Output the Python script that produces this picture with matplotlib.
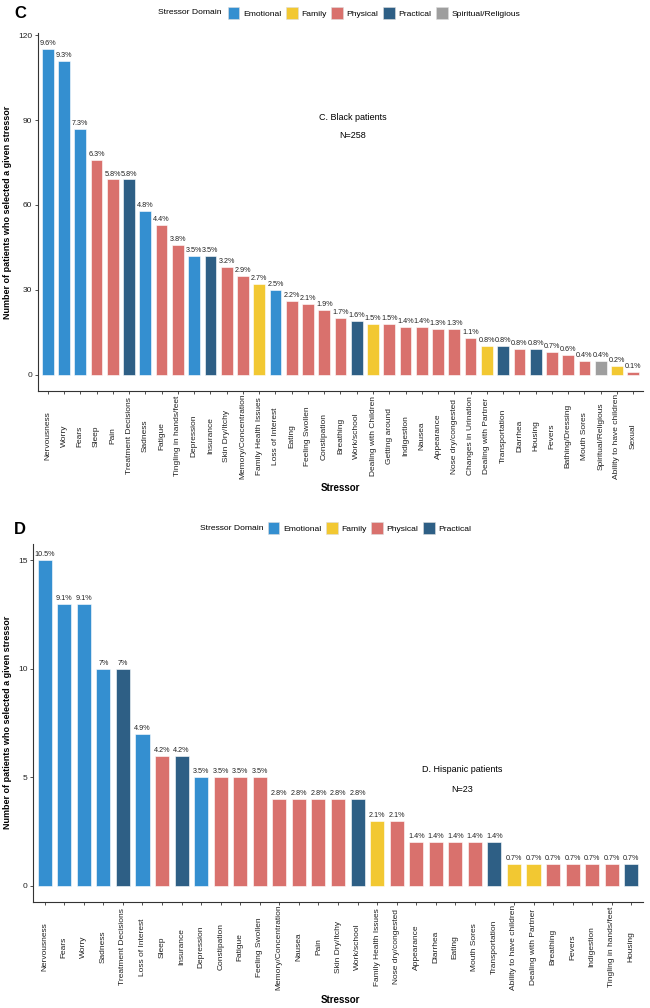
import matplotlib
matplotlib.use("Agg")
import matplotlib.pyplot as plt
from matplotlib.patches import Patch
from matplotlib.transforms import blended_transform_factory

plt.rcParams['font.family'] = ['Liberation Sans', 'DejaVu Sans']

# ---------------- Data: Panel C (Black patients) ----------------
c_stressors = ["Nervousness", "Worry", "Fears", "Sleep", "Pain", "Treatment Decisions",
               "Sadness", "Fatigue", "Tingling in hands/feet", "Depression", "Insurance",
               "Skin Dry/Itchy", "Memory/Concentration", "Family Health Issues",
               "Loss of Interest", "Eating", "Feeling Swollen", "Constipation", "Breathing",
               "Work/school", "Dealing with Children", "Getting around", "Indigestion",
               "Nausea", "Appearance", "Nose dry/congested", "Changes in Urination",
               "Dealing with Partner", "Transportation", "Diarrhea", "Housing", "Fevers",
               "Bathing/Dressing", "Mouth Sores", "Spiritual/Religious",
               "Ability to have children", "Sexual"]
c_counts = [115, 111, 87, 76, 69, 69, 58, 53, 46, 42, 42, 38, 35, 32, 30, 26, 25, 23, 20,
            19, 18, 18, 17, 17, 16, 16, 13, 10, 10, 9, 9, 8, 7, 5, 5, 3, 1]
c_pct = ["9.6%", "9.3%", "7.3%", "6.3%", "5.8%", "5.8%", "4.8%", "4.4%", "3.8%", "3.5%",
         "3.5%", "3.2%", "2.9%", "2.7%", "2.5%", "2.2%", "2.1%", "1.9%", "1.7%", "1.6%",
         "1.5%", "1.5%", "1.4%", "1.4%", "1.3%", "1.3%", "1.1%", "0.8%", "0.8%", "0.8%",
         "0.8%", "0.7%", "0.6%", "0.4%", "0.4%", "0.2%", "0.1%"]
c_domain = ["Emotional", "Emotional", "Emotional", "Physical", "Physical", "Practical",
            "Emotional", "Physical", "Physical", "Emotional", "Practical", "Physical",
            "Physical", "Family", "Emotional", "Physical", "Physical", "Physical", "Physical",
            "Practical", "Family", "Physical", "Physical", "Physical", "Physical", "Physical",
            "Physical", "Family", "Practical", "Physical", "Practical", "Physical",
            "Physical", "Physical", "Spiritual/Religious", "Family", "Physical"]
c_yticks = [0, 30, 60, 90, 120]

# ---------------- Data: Panel D (Hispanic patients) ----------------
d_stressors = ["Nervousness", "Fears", "Worry", "Sadness", "Treatment Decisions",
               "Loss of Interest", "Sleep", "Insurance", "Depression", "Constipation",
               "Fatigue", "Feeling Swollen", "Memory/Concentration", "Nausea", "Pain",
               "Skin Dry/Itchy", "Work/school", "Family Health Issues", "Nose dry/congested",
               "Appearance", "Diarrhea", "Eating", "Mouth Sores", "Transportation",
               "Ability to have children", "Dealing with Partner", "Breathing", "Fevers",
               "Indigestion", "Tingling in hands/feet", "Housing"]
d_counts = [15, 13, 13, 10, 10, 7, 6, 6, 5, 5, 5, 5, 4, 4, 4, 4, 4, 3, 3, 2, 2, 2, 2, 2,
            1, 1, 1, 1, 1, 1, 1]
d_pct = ["10.5%", "9.1%", "9.1%", "7%", "7%", "4.9%", "4.2%", "4.2%", "3.5%", "3.5%",
         "3.5%", "3.5%", "2.8%", "2.8%", "2.8%", "2.8%", "2.8%", "2.1%", "2.1%", "1.4%",
         "1.4%", "1.4%", "1.4%", "1.4%", "0.7%", "0.7%", "0.7%", "0.7%", "0.7%", "0.7%",
         "0.7%"]
d_domain = ["Emotional", "Emotional", "Emotional", "Emotional", "Practical", "Emotional",
            "Physical", "Practical", "Emotional", "Physical", "Physical", "Physical",
            "Physical", "Physical", "Physical", "Physical", "Practical", "Family",
            "Physical", "Physical", "Physical", "Physical", "Physical", "Practical",
            "Family", "Family", "Physical", "Physical", "Physical", "Physical", "Practical"]
d_yticks = [0, 5, 10, 15]

domain_colors = {"Emotional": "#348fd0", "Family": "#f2c832", "Physical": "#d9716d",
                 "Practical": "#2e5f85", "Spiritual/Religious": "#9e9e9e"}

W, H = 650, 1008
fig = plt.figure(figsize=(W / 100, H / 100), dpi=100)


def fx(px):
    return px / W


def fy(py):
    return 1 - py / H


def panel(rect, names, counts, pcts, domains, yticks, ymax_data, label_center_py):
    ax = fig.add_axes(rect)
    x = list(range(len(names)))
    cols = [domain_colors[d] for d in domains]
    ax.bar(x, counts, width=0.72, color=cols, edgecolor="white", linewidth=0.4, zorder=2)
    for xi, c, p in zip(x, counts, pcts):
        ax.text(xi, c + ymax_data * 0.006, p, ha="center", va="bottom", fontsize=5.2,
                color="#222222")
    pad = ymax_data * 0.05
    ax.set_ylim(-pad, ymax_data + pad)
    ax.set_xlim(-0.6, len(names) - 0.4)
    ax.set_yticks(yticks)
    ax.set_xticks(x)
    ax.set_xticklabels([])
    # x tick labels, vertically centred like the reference
    trans = blended_transform_factory(ax.transData, fig.transFigure)
    for xi, n in zip(x, names):
        ax.text(xi, fy(label_center_py), n, rotation=90, ha="center", va="center",
                fontsize=6, color="#222222", transform=trans)
    ax.tick_params(axis="y", labelsize=6, length=2.5, width=0.6, colors="#333333",
                   labelcolor="#222222", pad=1.5)
    ax.tick_params(axis="x", length=2.5, width=0.6, colors="#333333")
    for s in ["top", "right"]:
        ax.spines[s].set_visible(False)
    for s in ["left", "bottom"]:
        ax.spines[s].set_linewidth(0.8)
        ax.spines[s].set_color("#333333")
    return ax


# Panel C
axc = panel([fx(38), fy(391), fx(643) - fx(38), fy(33) - fy(391)],
            c_stressors, c_counts, c_pct, c_domain, c_yticks, 115, 436)
# Panel D
axd = panel([fx(33), fy(902), fx(643) - fx(33), fy(544) - fy(902)],
            d_stressors, d_counts, d_pct, d_domain, d_yticks, 15, 947)

# Panel letters
fig.text(fx(14), fy(14), "C", fontsize=12, fontweight="bold", va="center", ha="left")
fig.text(fx(14), fy(530), "D", fontsize=12, fontweight="bold", va="center", ha="left")

# Axis titles
ylab = "Number of patients who selected a given stressor"
fig.text(fx(8), fy(212), ylab, rotation=90, fontsize=6.5, fontweight="bold",
         ha="center", va="center")
fig.text(fx(8), fy(722), ylab, rotation=90, fontsize=6.5, fontweight="bold",
         ha="center", va="center")
fig.text(fx(340), fy(488), "Stressor", fontsize=7, fontweight="bold", ha="center", va="center")
fig.text(fx(340), fy(1000), "Stressor", fontsize=7, fontweight="bold", ha="center", va="center")

# Annotations
fig.text(fx(353), fy(117), "C. Black patients", fontsize=6.5, ha="center", va="center")
fig.text(fx(353), fy(136), "N=258", fontsize=6.5, ha="center", va="center")
fig.text(fx(462), fy(770), "D. Hispanic patients", fontsize=6.5, ha="center", va="center")
fig.text(fx(462), fy(790), "N=23", fontsize=6.5, ha="center", va="center")


# Legends
def legend(domains, x_title_right, x_start, y):
    handles = [Patch(facecolor=domain_colors[d], edgecolor="#dddddd", linewidth=0.4, label=d)
               for d in domains]
    fig.text(fx(x_title_right), fy(y), "Stressor Domain", fontsize=6.1, ha="right",
             va="center")
    fig.legend(handles=handles, loc="center left", bbox_to_anchor=(fx(x_start), fy(y)),
               ncol=len(domains), frameon=False, fontsize=6.1, handlelength=1.35,
               handleheight=1.7, handletextpad=0.45, columnspacing=0.55, borderpad=0,
               borderaxespad=0)


legend(["Emotional", "Family", "Physical", "Practical", "Spiritual/Religious"], 222, 228, 13)
legend(["Emotional", "Family", "Physical", "Practical"], 263, 268, 528)

fig.savefig("out.png", dpi=100)
